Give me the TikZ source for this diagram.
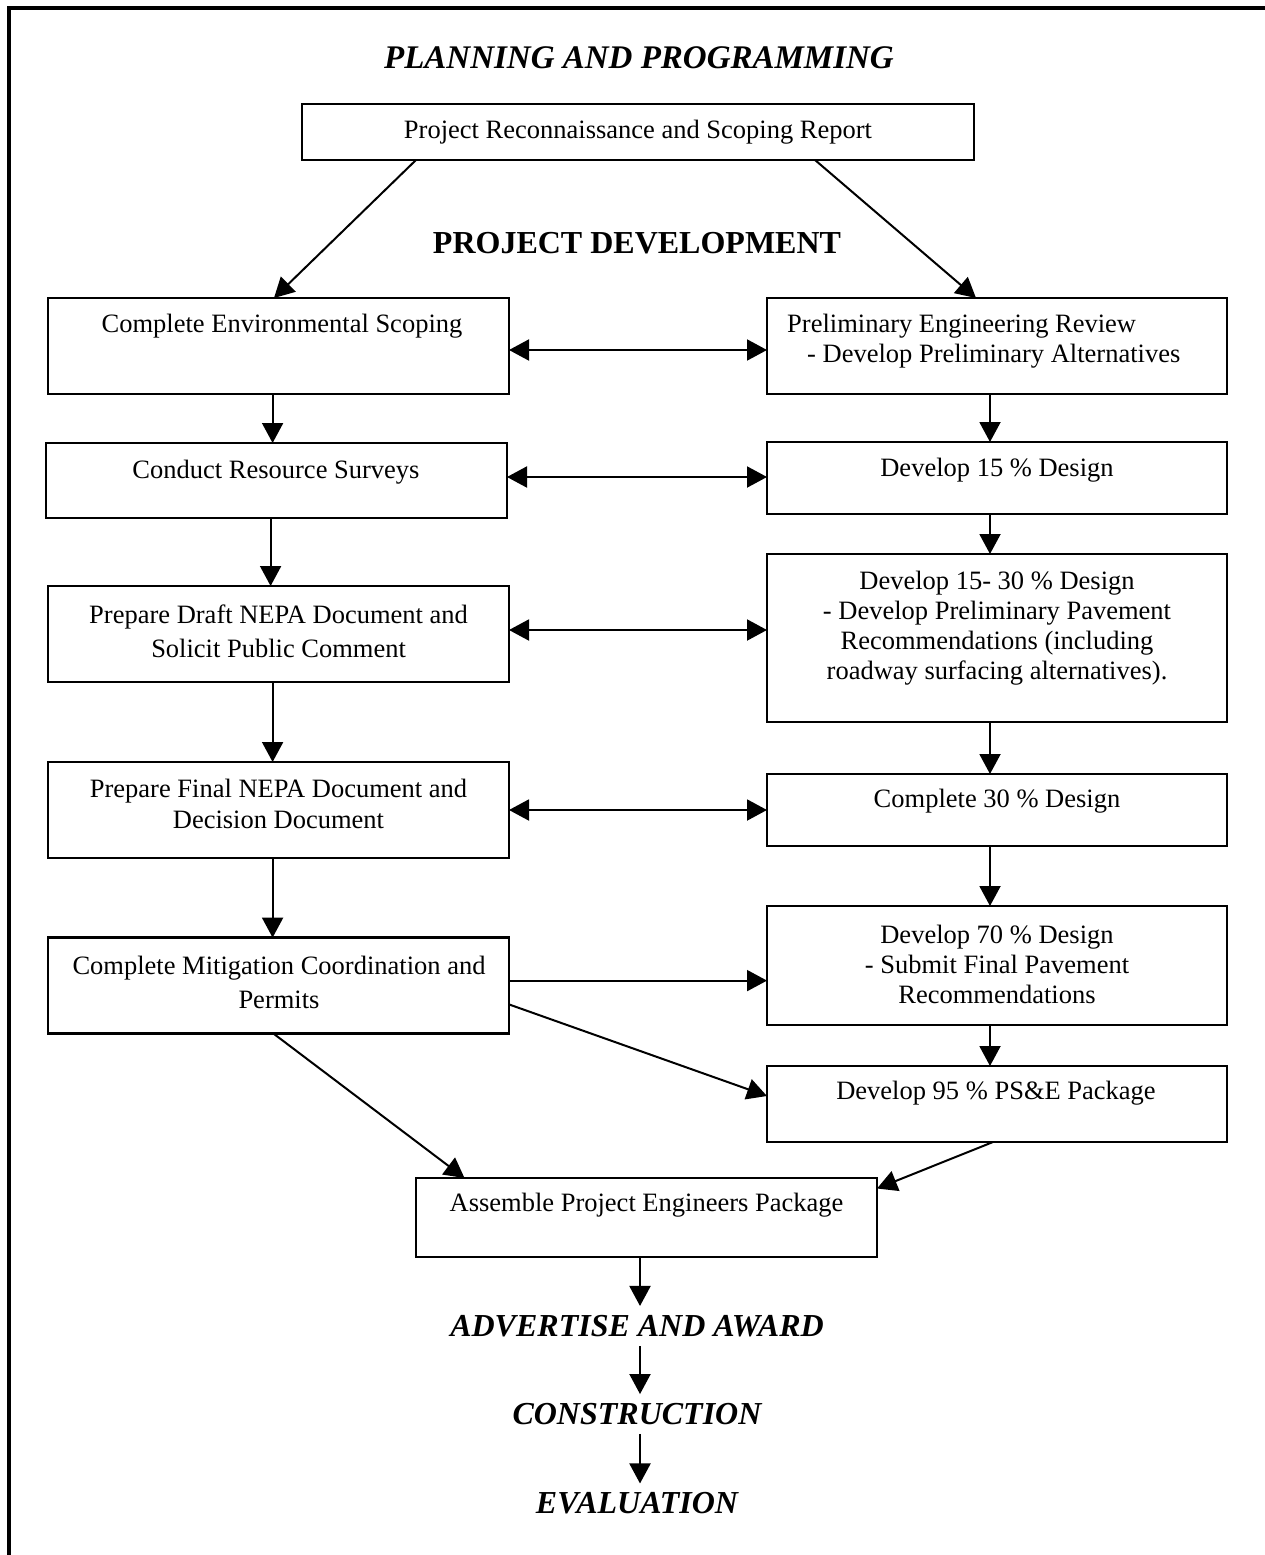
\documentclass[tikz,border=0pt]{standalone}
\usepackage{fontspec}
\setmainfont{Liberation Serif}
\usetikzlibrary{arrows.meta,calc}
\tikzset{
  box/.style={draw, line width=2.5pt, inner sep=0pt, outer sep=0pt},
  txt/.style={inner sep=0pt, align=center, font=\fontsize{26.5}{30}\selectfont},
  head/.style={inner xsep=0pt, inner ysep=9pt, font=\fontsize{32}{36}\selectfont\bfseries\itshape},
  arr/.style={-{Triangle[length=20pt,width=21pt]}, line width=2pt},
  darr/.style={{Triangle[length=20pt,width=21pt]}-{Triangle[length=20pt,width=21pt]}, line width=2pt}
}
\begin{document}
\begin{tikzpicture}[x=1pt,y=-1pt]
\useasboundingbox (0,0) rectangle (1265,1555);
% frame
\draw[line width=3.2pt] (9,1555) -- (9,8) -- (1265,8);

% headings
\node[head, font=\fontsize{33}{36}\selectfont\bfseries\itshape] (title) at (639,58) {PLANNING AND PROGRAMMING};
\node[head, font=\fontsize{32}{36}\selectfont\bfseries] (pd) at (637,243) {PROJECT DEVELOPMENT};

% boxes
\node[box, minimum width=672pt, minimum height=56pt] (top) at (638,132) {};
\node[box, minimum width=461pt, minimum height=96pt] (ces) at (278.5,346) {};
\node[box, minimum width=460pt, minimum height=96pt] (per) at (997,346) {};
\node[box, minimum width=461pt, minimum height=75pt] (crs) at (276.5,480.5) {};
\node[box, minimum width=460pt, minimum height=72pt] (d15) at (997,478) {};
\node[box, minimum width=461pt, minimum height=96pt] (draft) at (278.5,634) {};
\node[box, minimum width=460pt, minimum height=168pt] (d1530) at (997,638) {};
\node[box, minimum width=461pt, minimum height=96pt] (final) at (278.5,810) {};
\node[box, minimum width=460pt, minimum height=72pt] (c30) at (997,810) {};
\node[box, minimum width=461pt, minimum height=96pt] (mit) at (278.5,985.6) {};
\node[box, minimum width=460pt, minimum height=119pt] (d70) at (997,965.5) {};
\node[box, minimum width=460pt, minimum height=76pt] (d95) at (997,1104) {};
\node[box, minimum width=461pt, minimum height=79pt] (asm) at (646.5,1217.5) {};

% box texts
\node[txt] (ttop) at (638,132) {Project Reconnaissance and Scoping Report};
\node[txt] (tces) at (282,326) {Complete Environmental Scoping};
\node[txt, align=left, anchor=west] (tper) at (787,341) {Preliminary Engineering Review\\\hspace*{20pt}- Develop Preliminary Alternatives};
\node[txt] (tcrs) at (276,472) {Conduct Resource Surveys};
\node[txt] (td15) at (997,470) {Develop 15 \% Design};
\node[txt] (tdraft) at (278.6,631) {Prepare Draft NEPA Document and\\[4pt]Solicit Public Comment};
\node[txt] (td1530) at (997,628) {Develop 15- 30 \% Design\\- Develop Preliminary Pavement\\Recommendations (including\\roadway surfacing alternatives).};
\node[txt] (tfinal) at (278.5,804) {Prepare Final NEPA Document and\\[1pt]Decision Document};
\node[txt] (tc30) at (997,801) {Complete 30 \% Design};
\node[txt] (tmit) at (279,982) {Complete Mitigation Coordination and\\[4pt]Permits};
\node[txt] (td70) at (997,964) {Develop 70 \% Design\\- Submit Final Pavement\\Recommendations};
\node[txt] (td95) at (996,1093) {Develop 95 \% PS\&E Package};
\node[txt] (tasm) at (646.5,1205) {Assemble Project Engineers Package};

% bottom headings
\node[head] (adv) at (637,1326) {ADVERTISE AND AWARD};
\node[head] (con) at (637,1414) {CONSTRUCTION};
\node[head] (eva) at (637,1503.5) {EVALUATION};

% connectors
\draw[arr] ([xshift=114pt]top.south west) -- ([xshift=226pt]ces.north west);
\draw[arr] ([xshift=513pt]top.south west) -- ([xshift=209pt]per.north west);

\draw[darr] (ces.east |- 0,350) -- (per.west |- 0,350);
\draw[darr] (crs.east |- 0,477) -- (d15.west |- 0,477);
\draw[darr] (draft.east |- 0,630) -- (d1530.west |- 0,630);
\draw[darr] (final.east |- 0,810) -- (c30.west |- 0,810);

\draw[arr] (ces.south -| 272.6,0) -- (crs.north -| 272.6,0);
\draw[arr] (crs.south -| 270.6,0) -- (draft.north -| 270.6,0);
\draw[arr] (draft.south -| 272.6,0) -- (final.north -| 272.6,0);
\draw[arr] (final.south -| 272.6,0) -- (mit.north -| 272.6,0);

\draw[arr] (per.south -| 990,0) -- (d15.north -| 990,0);
\draw[arr] (d15.south -| 990,0) -- (d1530.north -| 990,0);
\draw[arr] (d1530.south -| 990,0) -- (c30.north -| 990,0);
\draw[arr] (c30.south -| 990,0) -- (d70.north -| 990,0);
\draw[arr] (d70.south -| 990,0) -- (d95.north -| 990,0);

\draw[arr] (mit.east |- 0,980.6) -- (d70.west |- 0,980.6);
\draw[arr] (mit.east |- 0,1004.4) -- ([yshift=8pt]d95.west);
\draw[arr] ([xshift=-5pt]mit.south) -- ([xshift=48.5pt]asm.north west);
\draw[arr] ([xshift=-4pt]d95.south) -- ([yshift=-10.5pt]asm.north east);

\draw[arr] (asm.south -| 640,0) -- (adv.north -| 640,0);
\draw[arr] (adv.south -| 640,0) -- (con.north -| 640,0);
\draw[arr] (con.south -| 640,0) -- (eva.north -| 640,0);
\end{tikzpicture}
\end{document}
